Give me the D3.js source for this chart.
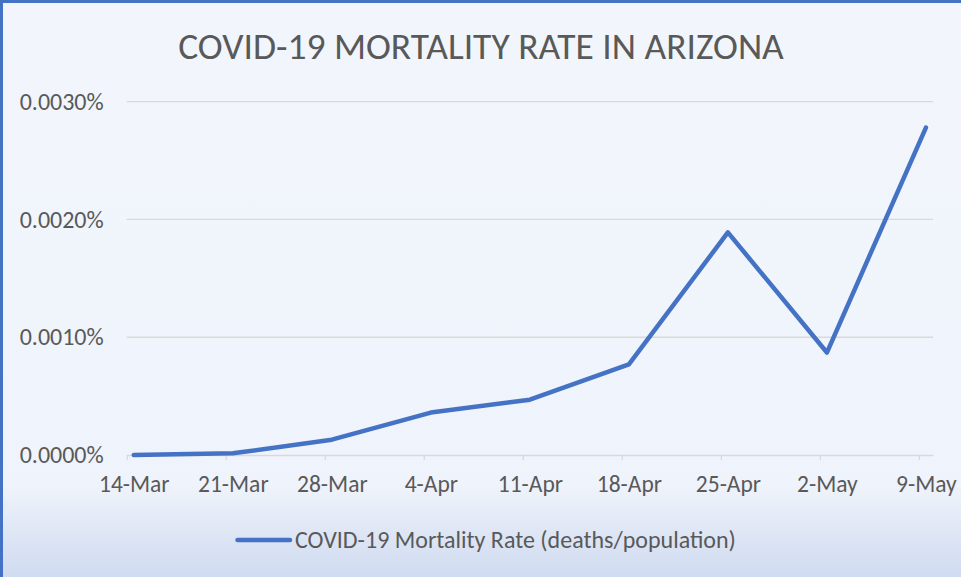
<!DOCTYPE html>
<html>
<head>
<meta charset="utf-8">
<script src="https://cdn.jsdelivr.net/npm/d3@7"></script>
<style>
  body { margin: 0; background: #fff; }
  svg { display: block; }
</style>
</head>
<body>
<div id="chart"></div>
<script>
// chart data
var dates = ["2020-03-14", "2020-03-21", "2020-03-28", "2020-04-04", "2020-04-11",
             "2020-04-18", "2020-04-25", "2020-05-02", "2020-05-09"]
var labels = ["14-Mar", "21-Mar", "28-Mar", "4-Apr", "11-Apr", "18-Apr", "25-Apr", "2-May", "9-May"]
// mortality rate as fraction (0.00001 = 0.0010%)
var rates = [0.0000000, 0.00000014, 0.0000013, 0.0000036, 0.0000047,
             0.0000077, 0.0000189, 0.0000087, 0.0000278]
var yTicks = [0, 0.00001, 0.00002, 0.00003]
var title = "COVID-19 MORTALITY RATE IN ARIZONA"
var seriesName = "COVID-19 Mortality Rate (deaths/population)"

var width = 961
var height = 577
var margins = { top: 101.7, right: 28, bottom: 122, left: 126.7 }
var blue = "#4472c4"
var textColor = "#595959"
var font = "Carlito, Lato, sans-serif"

var svg = d3.select("#chart")
    .append("svg")
    .attr("width", width)
    .attr("height", height)

// background gradient
var defs = svg.append("defs")
var grad = defs.append("linearGradient")
    .attr("id", "bg")
    .attr("x1", 0).attr("y1", 0).attr("x2", 0).attr("y2", 1)
grad.append("stop").attr("offset", "0%").attr("stop-color", "#f2f6fc")
grad.append("stop").attr("offset", "84%").attr("stop-color", "#eff3fb")
grad.append("stop").attr("offset", "100%").attr("stop-color", "#cfdbf0")

svg.append("rect")
    .attr("width", width)
    .attr("height", height)
    .attr("fill", "url(#bg)")

// border (left and top visible)
svg.append("path")
    .attr("d", "M1.5," + height + "V1.5H" + width)
    .attr("fill", "none")
    .attr("stroke", blue)
    .attr("stroke-width", 3)

var parse = d3.utcParse("%Y-%m-%d")
var data = dates.map((d, i) => ({ date: parse(d), label: labels[i], value: rates[i] }))

var day = 24 * 3600 * 1000
var xStart = data[0].date
var xEnd = new Date(+data[data.length - 1].date + day)

var xScale = d3.scaleUtc()
    .domain([xStart, xEnd])
    .range([margins.left, width - margins.right])
var yScale = d3.scaleLinear()
    .domain([0, 0.00003])
    .range([height - margins.bottom, margins.top])

var halfDay = (xScale(new Date(+xStart + day)) - xScale(xStart)) / 2

// gridlines
svg.append("g")
    .selectAll("line")
    .data(yTicks.slice(1))
    .enter()
    .append("line")
    .attr("x1", margins.left)
    .attr("x2", width - margins.right)
    .attr("y1", d => yScale(d))
    .attr("y2", d => yScale(d))
    .attr("stroke", "#d9d9d9")
    .attr("stroke-width", 1.3)

// y axis labels
var yaxis = d3.axisLeft(yScale)
    .tickValues(yTicks)
    .tickFormat(d3.format(".4%"))
    .tickSize(0)
    .tickPadding(0)
var yg = svg.append("g")
    .attr("transform", "translate(" + (margins.left - 23) + ",0)")
    .call(yaxis)
yg.select(".domain").remove()
yg.selectAll("text")
    .attr("fill", textColor)
    .attr("font-family", font)
    .attr("font-size", "24px")

// x axis
var xaxis = d3.axisBottom(xScale)
    .tickValues(data.map(d => d.date))
    .tickFormat((d, i) => labels[i])
    .tickSize(5)
    .tickSizeOuter(0)
    .tickPadding(15)
var xg = svg.append("g")
    .attr("transform", "translate(0," + (height - margins.bottom) + ")")
    .call(xaxis)
xg.select(".domain").attr("stroke", "#d9d9d9").attr("stroke-width", 1.3)
xg.selectAll(".tick line").attr("stroke", "#d9d9d9").attr("stroke-width", 1.3)
xg.selectAll("text")
    .attr("x", halfDay)
    .attr("fill", textColor)
    .attr("font-family", font)
    .attr("font-size", "23.5px")

// line
var line = d3.line()
    .x(d => xScale(d.date) + halfDay)
    .y(d => yScale(d.value))
svg.append("path")
    .datum(data)
    .attr("d", line)
    .attr("fill", "none")
    .attr("stroke", blue)
    .attr("stroke-width", 4.5)
    .attr("stroke-linejoin", "round")
    .attr("stroke-linecap", "round")

// title
svg.append("text")
    .attr("x", 481)
    .attr("y", 59)
    .attr("text-anchor", "middle")
    .attr("fill", textColor)
    .attr("font-family", font)
    .attr("font-weight", 300)
    .attr("font-size", "37.5px")
    .text(title)

// legend
svg.append("line")
    .attr("x1", 237.5).attr("x2", 290)
    .attr("y1", 540).attr("y2", 540)
    .attr("stroke", blue)
    .attr("stroke-width", 4.5)
    .attr("stroke-linecap", "round")
svg.append("text")
    .attr("x", 295)
    .attr("y", 547.5)
    .attr("fill", textColor)
    .attr("font-family", font)
    .attr("font-size", "24px")
    .text(seriesName)
</script>
</body>
</html>
